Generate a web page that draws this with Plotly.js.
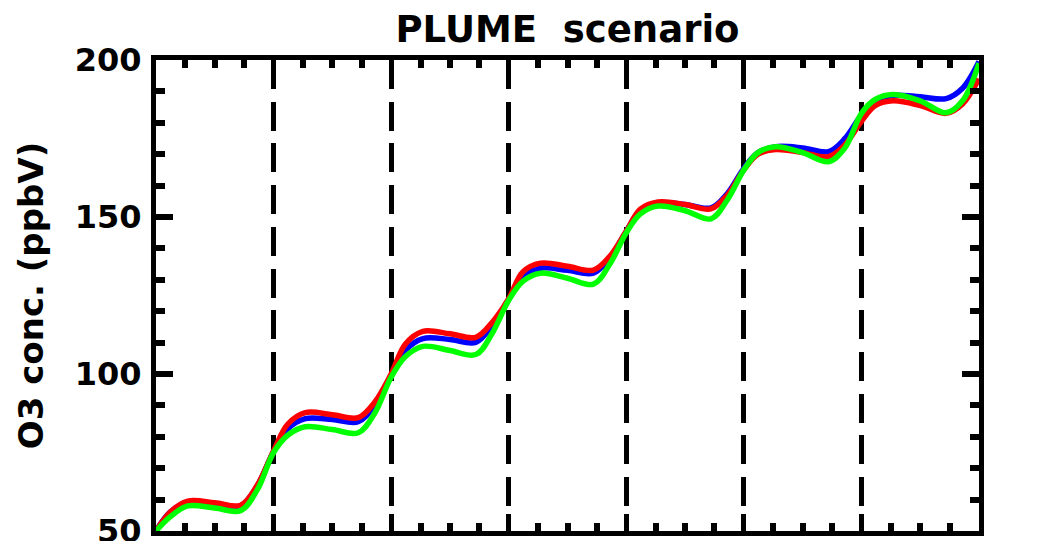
<!DOCTYPE html>
<html>
<head>
<meta charset="utf-8">
<script src="https://cdn.plot.ly/plotly-3.0.1.min.js"></script>
<style>html,body{margin:0;padding:0;background:#fff;}#chart{width:1038px;height:541px;}</style>
</head>
<body>
<div id="chart"></div>
<script>
// Time in days
const days = [
  0, 0.12, 0.27, 0.5, 0.72, 0.86,
  1, 1.12, 1.27, 1.5, 1.72, 1.86,
  2, 2.12, 2.27, 2.5, 2.72, 2.86,
  3, 3.12, 3.27, 3.5, 3.72, 3.86,
  4, 4.12, 4.27, 4.5, 4.72, 4.86,
  5, 5.12, 5.27, 5.5, 5.72, 5.86,
  6, 6.12, 6.27, 6.5, 6.72, 6.86,
  7
];
const o3Red = [
  50, 56, 59.5, 59, 58.2, 64.5,
  75.5, 84, 87.7, 87, 86.1, 91,
  100, 109.5, 113.6, 112.8, 111.7, 116.5,
  124, 132.5, 135.3, 134.3, 133.1, 137.5,
  145.5, 152.5, 154.8, 154, 152.6, 157,
  165, 170, 171.5, 170.5, 169.2, 173,
  180.5, 185.5, 187, 185.5, 183, 186,
  194
];
const o3Blue = [
  50, 56, 59.3, 58.8, 58, 64.3,
  75.3, 82.5, 85.8, 85.5, 84.8, 90,
  99.5, 107.5, 111.3, 111, 110.1, 115.5,
  123.8, 131, 133.7, 133, 132.1, 137,
  145.5, 152, 154.5, 154, 152.9, 157.5,
  165.5, 170.5, 172.4, 172, 170.8, 175,
  182.5, 187, 188.7, 188.3, 187.7, 191,
  199.5
];
const o3Green = [
  50, 54.5, 58, 57.3, 56.5, 63,
  75, 80.5, 83.2, 82.3, 81.3, 87.5,
  99, 105.5, 108.8, 107.5, 106.2, 113,
  123.5, 129.5, 132.1, 130.5, 128.6, 135,
  145, 151, 153.5, 152, 149.4, 155.5,
  165, 170.5, 172.4, 170.5, 167.6, 172,
  183, 187.5, 189, 187, 183.2, 187,
  199
];
const yTickVals = [50, 100, 150, 200];
const yTickText = ['50', '100', '150', '200'];

const FONT = 'DejaVu Sans, sans-serif';
function tr(y, color) {
  return {x: days, y: y, type: 'scatter', mode: 'lines',
    line: {color: color, width: 5.5, shape: 'spline', smoothing: 1},
    hoverinfo: 'skip', showlegend: false};
}
const data = [tr(o3Blue, '#0000ff'), tr(o3Red, '#ff0000'), tr(o3Green, '#00ff00')];

const layout = {
  width: 1038, height: 541,
  margin: {l: 156, r: 59, t: 60, b: 10, pad: 0},
  paper_bgcolor: '#ffffff', plot_bgcolor: '#ffffff',
  showlegend: false,
  title: {text: '<b>PLUME  scenario</b>', font: {family: FONT, size: 37, color: '#000'},
    x: 0.5, xref: 'paper', xanchor: 'center', y: 0.947, yref: 'container', yanchor: 'middle'},
  xaxis: {
    range: [0, 7], dtick: 1, tick0: 0,
    showline: true, linewidth: 5, linecolor: '#000', mirror: 'allticks',
    ticks: 'inside', ticklen: 17, tickwidth: 5, tickcolor: '#000',
    showticklabels: false,
    showgrid: true, gridcolor: '#000', gridwidth: 5, griddash: '29px,12.7px',
    minor: {dtick: 0.25, ticks: 'inside', ticklen: 8, tickwidth: 6, tickcolor: '#000', showgrid: false},
    zeroline: false, fixedrange: true
  },
  yaxis: {
    range: [50, 200], tickvals: yTickVals, ticktext: yTickText,
    showline: true, linewidth: 5, linecolor: '#000', mirror: 'allticks',
    ticks: 'inside', ticklen: 17, tickwidth: 6, tickcolor: '#000',
    tickfont: {family: FONT, size: 32, color: '#000', weight: 'bold'},
    ticklabelstandoff: 3, ticklabeloverflow: 'allow',
    showgrid: false, zeroline: false,
    minor: {dtick: 10, ticks: 'inside', ticklen: 9, tickwidth: 6, tickcolor: '#000', showgrid: false},
    title: {text: '<b>O3 conc. (ppbV)</b>', font: {family: FONT, size: 34, color: '#000'}, standoff: 22},
    automargin: false, fixedrange: true
  }
};
Plotly.newPlot('chart', data, layout, {displayModeBar: false, staticPlot: true});
</script>
</body>
</html>
